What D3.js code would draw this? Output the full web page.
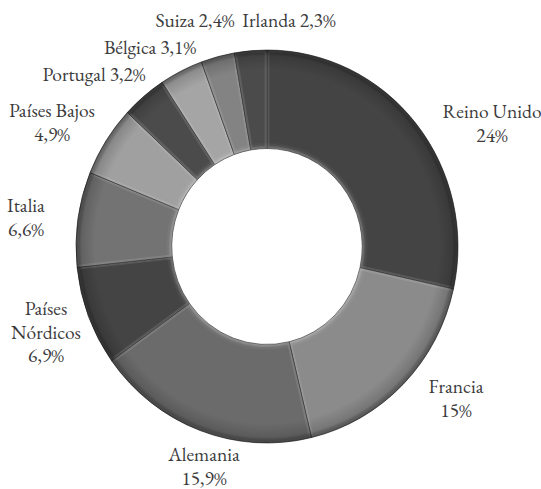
<!DOCTYPE html>
<html>
<head>
<meta charset="utf-8">
<script src="https://cdn.jsdelivr.net/npm/d3@7"></script>
<style>
  html, body { margin: 0; padding: 0; background: #ffffff; }
  svg { display: block; }
</style>
</head>
<body>
<svg id="chart" width="541" height="489"></svg>
<script>
// Share of each market (per cent)
const countries = ["Reino Unido", "Francia", "Alemania", "Países Nórdicos", "Italia",
                   "Países Bajos", "Portugal", "Bélgica", "Suiza", "Irlanda"];
const shares = [24, 15, 15.9, 6.9, 6.6, 4.9, 3.2, 3.1, 2.4, 2.3];
const shades = ["#444444", "#8b8b8b", "#6b6b6b", "#444444", "#737373",
                "#a0a0a0", "#4b4b4b", "#a5a5a5", "#838383", "#4b4b4b"];

// Where each label sits: centre x, first baseline y, and how the text is broken
const labelLayout = {
  "Reino Unido":     { x: 492, y: 118, mode: "stack" },
  "Francia":         { x: 456, y: 393, mode: "stack" },
  "Alemania":        { x: 204, y: 461, mode: "stack" },
  "Países Nórdicos": { x: 46,  y: 315, mode: "split" },
  "Italia":          { x: 26,  y: 212, mode: "stack" },
  "Países Bajos":    { x: 52,  y: 117, mode: "stack" },
  "Portugal":        { x: 94,  y: 81,  mode: "inline" },
  "Bélgica":         { x: 150, y: 54,  mode: "inline" },
  "Suiza":           { x: 195, y: 27,  mode: "inline" },
  "Irlanda":         { x: 289, y: 27,  mode: "inline" }
};

// Pick the first installed serif face; fall back to the generic family
function pickSerif(cands) {
  const ctx = document.createElement("canvas").getContext("2d");
  const probe = "Países Bajos 15,9% mmmWWiil";
  ctx.font = "40px monospace"; const wMono = ctx.measureText(probe).width;
  ctx.font = "40px sans-serif"; const wSans = ctx.measureText(probe).width;
  for (const c of cands) {
    ctx.font = `40px "${c}", monospace`; const a = ctx.measureText(probe).width;
    ctx.font = `40px "${c}", sans-serif`; const b = ctx.measureText(probe).width;
    if (a !== wMono && b !== wSans) return `"${c}", serif`;
  }
  return "serif";
}
const labelFont = pickSerif(["EB Garamond", "Liberation Serif", "Tinos", "Times New Roman",
                             "DejaVu Serif", "Noto Serif", "Georgia", "Times"]);

const data = countries.map((name, i) => ({ name, value: shares[i], color: shades[i] }));

const cx = 267, cy = 246.5, rOuter = 196.5, rInner = 98, squeeze = 0.972;
const lineGap = 23.5;

const svg = d3.select("#chart");
const defs = svg.append("defs");

// Rim shading: soft highlight at the hole, darkening toward the outer edge
const rim = defs.append("radialGradient")
  .attr("id", "rim")
  .attr("gradientUnits", "userSpaceOnUse")
  .attr("cx", 0).attr("cy", 0).attr("r", rOuter);
[[0.49, "#ffffff", 0.16], [0.53, "#ffffff", 0.0], [0.9, "#000000", 0.0],
 [0.97, "#000000", 0.15], [1.0, "#000000", 0.5]].forEach(([o, c, a]) => {
  rim.append("stop").attr("offset", o).attr("stop-color", c).attr("stop-opacity", a);
});

const pie = d3.pie().sort(null).value(d => d.value);
const arc = d3.arc().innerRadius(rInner).outerRadius(rOuter);
const arcs = pie(data);

const ring = svg.append("g")
  .attr("transform", `translate(${cx},${cy}) scale(${squeeze},1)`);

// clip paths so each slice's bevel highlight stays inside the slice
arcs.forEach((a, i) => {
  defs.append("clipPath").attr("id", "clip" + i)
    .append("path").attr("d", arc(a));
});

const slice = ring.selectAll("g.slice").data(arcs).join("g").attr("class", "slice");

slice.append("path")
  .attr("d", arc)
  .attr("fill", d => d.data.color);

// faint bevel glow along every edge
slice.append("path")
  .attr("d", arc)
  .attr("fill", "none")
  .attr("stroke", "#ffffff")
  .attr("stroke-opacity", 0.1)
  .attr("stroke-width", 5)
  .attr("clip-path", (d, i) => `url(#clip${i})`);

slice.append("path")
  .attr("d", arc)
  .attr("fill", "none")
  .attr("stroke", "#ffffff")
  .attr("stroke-opacity", 0.1)
  .attr("stroke-width", 2)
  .attr("clip-path", (d, i) => `url(#clip${i})`);

// overall rim shading
ring.append("path")
  .attr("d", d3.arc().innerRadius(rInner).outerRadius(rOuter)({ startAngle: 0, endAngle: 2 * Math.PI }))
  .attr("fill", "url(#rim)");

// dark seams between slices
slice.append("path")
  .attr("d", arc)
  .attr("fill", "none")
  .attr("stroke", "#262626")
  .attr("stroke-opacity", 0.7)
  .attr("stroke-width", 0.9);

// Labels
const fmt = v => String(v).replace(".", ",") + "%";
const labels = svg.append("g")
  .style("font-family", labelFont)
  .style("font-size", "19.5px")
  .style("fill", "#3c3c3c")
  .attr("text-anchor", "middle");

data.forEach(d => {
  const L = labelLayout[d.name];
  let lines;
  if (L.mode === "inline") lines = [d.name + " " + fmt(d.value)];
  else if (L.mode === "split") lines = d.name.split(" ").concat([fmt(d.value)]);
  else lines = [d.name, fmt(d.value)];
  const t = labels.append("text").attr("x", L.x).attr("y", L.y);
  lines.forEach((s, k) => {
    t.append("tspan").attr("x", L.x).attr("dy", k === 0 ? 0 : lineGap).text(s);
  });
});
</script>
</body>
</html>
